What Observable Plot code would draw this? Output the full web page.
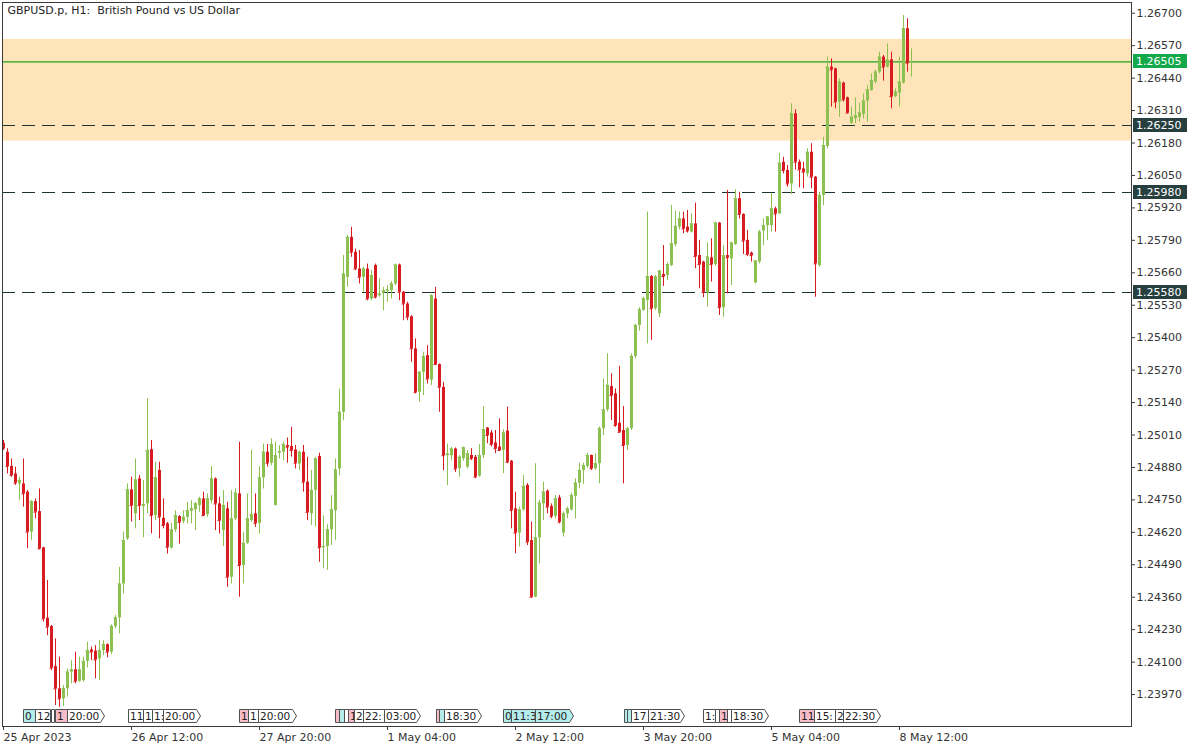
<!DOCTYPE html>
<html><head><meta charset="utf-8">
<script src="https://cdn.jsdelivr.net/npm/d3@7"></script>
<script src="https://cdn.jsdelivr.net/npm/@observablehq/plot@0.6"></script>
<style>body{margin:0;background:#fff;} svg{display:block}</style>
</head><body><div id="chart"></div>
<script>
const title = "GBPUSD.p, H1:  British Pound vs US Dollar";

// Hourly candles, index 0 = 25 Apr 2023 04:00 (trading hours only)
const openP = [1.24977,1.24941,1.24884,1.24854,1.24814,1.24814,1.24781,1.24621,1.24743,1.24703,
1.24558,1.24276,1.24243,1.24082,1.23993,1.23953,1.23993,1.24060,1.24069,1.24023,
1.24026,1.24103,1.24149,1.24144,1.24113,1.24146,1.24170,1.24140,1.24242,1.24277,
1.24413,1.24594,1.24790,1.24694,1.24834,1.24723,1.24734,1.24951,1.24687,1.24868,
1.24676,1.24654,1.24557,1.24630,1.24683,1.24664,1.24680,1.24704,1.24710,1.24727,
1.24754,1.24691,1.24747,1.24834,1.24734,1.24627,1.24714,1.24440,1.24674,1.24774,
1.24487,1.24576,1.24667,1.24694,1.24656,1.24838,1.24941,1.24897,1.24727,1.24937,
1.24941,1.24968,1.24964,1.24950,1.24894,1.24941,1.24821,1.24694,1.24788,1.24924,
1.24558,1.24563,1.24630,1.24707,1.24874,1.25101,1.25642,1.25802,1.25742,1.25675,
1.25642,1.25675,1.25555,1.25689,1.25568,1.25578,1.25586,1.25588,1.25615,1.25691,
1.25582,1.25535,1.25484,1.25355,1.25181,1.25261,1.25328,1.25230,1.25555,1.25292,
1.25201,1.24927,1.24927,1.24954,1.24875,1.24915,1.24881,1.24928,1.24921,1.24845,
1.24928,1.25038,1.25018,1.24978,1.24962,1.24948,1.25026,1.24905,1.24714,1.24617,
1.24710,1.24808,1.24587,1.24360,1.24598,1.24734,1.24785,1.24724,1.24684,1.24758,
1.24617,1.24694,1.24710,1.24764,1.24817,1.24868,1.24884,1.24928,1.24875,1.24895,
1.25035,1.25111,1.25204,1.25175,1.25057,1.25028,1.24968,1.25035,1.25325,1.25449,
1.25509,1.25549,1.25645,1.25516,1.25496,1.25653,1.25649,1.25689,1.25773,1.25843,
1.25876,1.25843,1.25823,1.25856,1.25729,1.25703,1.25578,1.25720,1.25693,1.25859,
1.25520,1.25729,1.25716,1.25773,1.25957,1.25894,1.25790,1.25739,1.25619,1.25703,
1.25827,1.25849,1.25849,1.25916,1.25896,1.26103,1.26070,1.26016,1.26297,1.26103,
1.26076,1.26056,1.26143,1.26043,1.25689,1.25970,1.26166,1.26484,1.26477,1.26344,
1.26420,1.26361,1.26259,1.26277,1.26283,1.26294,1.26348,1.26390,1.26424,1.26464,
1.26524,1.26484,1.26513,1.26366,1.26380,1.26420,1.26638,1.26500];

const highP = [1.24988,1.24955,1.24914,1.24881,1.24841,1.24914,1.24788,1.24747,1.24754,1.24794,
1.24560,1.24427,1.24247,1.24193,1.24120,1.24006,1.24073,1.24106,1.24140,1.24120,
1.24120,1.24180,1.24160,1.24166,1.24186,1.24186,1.24173,1.24249,1.24287,1.24480,
1.24621,1.24814,1.24841,1.24914,1.24848,1.24828,1.25156,1.24988,1.24901,1.24901,
1.24754,1.24660,1.24656,1.24707,1.24687,1.24707,1.24740,1.24747,1.24740,1.24761,
1.24781,1.24774,1.24883,1.24838,1.24761,1.24787,1.24740,1.24787,1.24794,1.24981,
1.24620,1.24774,1.24948,1.24774,1.24883,1.24974,1.24972,1.24994,1.24981,1.24968,
1.24981,1.24998,1.25041,1.24968,1.24945,1.24968,1.24921,1.24868,1.24921,1.24937,
1.24687,1.24651,1.24767,1.24914,1.25194,1.25729,1.25809,1.25842,1.25755,1.25749,
1.25682,1.25695,1.25669,1.25695,1.25635,1.25602,1.25608,1.25625,1.25695,1.25695,
1.25585,1.25542,1.25488,1.25395,1.25265,1.25341,1.25368,1.25572,1.25602,1.25295,
1.25221,1.24974,1.24961,1.24958,1.24928,1.24962,1.24948,1.24955,1.24928,1.24972,
1.25124,1.25040,1.25028,1.25028,1.25075,1.25031,1.25122,1.24908,1.24781,1.24721,
1.24848,1.24815,1.24661,1.24895,1.24748,1.24821,1.24790,1.24734,1.24768,1.24768,
1.24701,1.24721,1.24777,1.24835,1.24897,1.24897,1.24937,1.24930,1.24935,1.25042,
1.25235,1.25336,1.25255,1.25195,1.25285,1.25124,1.25041,1.25335,1.25453,1.25520,
1.25562,1.25903,1.25649,1.25649,1.25669,1.25769,1.25699,1.25930,1.25907,1.25903,
1.25903,1.25910,1.25896,1.25939,1.25790,1.25706,1.25779,1.25796,1.25863,1.25862,
1.25769,1.25990,1.25783,1.25993,1.25983,1.25896,1.25830,1.25743,1.25709,1.25830,
1.25876,1.25885,1.25976,1.25923,1.26139,1.26123,1.26090,1.26337,1.26313,1.26112,
1.26103,1.26157,1.26177,1.26046,1.25983,1.26203,1.26524,1.26517,1.26480,1.26437,
1.26424,1.26364,1.26324,1.26361,1.26340,1.26377,1.26410,1.26457,1.26471,1.26544,
1.26531,1.26577,1.26544,1.26397,1.26524,1.26691,1.26678,1.26557];

const lowP = [1.24948,1.24854,1.24841,1.24808,1.24747,1.24721,1.24554,1.24587,1.24674,1.24550,
1.24260,1.24206,1.24066,1.23926,1.23919,1.23922,1.23960,1.24013,1.24013,1.24019,
1.24019,1.24076,1.24106,1.24033,1.24026,1.24126,1.24117,1.24130,1.24233,1.24213,
1.24373,1.24587,1.24661,1.24634,1.24667,1.24598,1.24694,1.24614,1.24667,1.24594,
1.24634,1.24533,1.24553,1.24620,1.24573,1.24654,1.24654,1.24654,1.24627,1.24700,
1.24683,1.24680,1.24734,1.24627,1.24613,1.24563,1.24400,1.24413,1.24667,1.24360,
1.24413,1.24571,1.24660,1.24640,1.24613,1.24794,1.24881,1.24887,1.24727,1.24914,
1.24907,1.24897,1.24921,1.24874,1.24867,1.24781,1.24667,1.24647,1.24641,1.24500,
1.24474,1.24467,1.24567,1.24587,1.24847,1.25067,1.25602,1.25722,1.25669,1.25615,
1.25582,1.25548,1.25548,1.25555,1.25562,1.25508,1.25542,1.25555,1.25608,1.25548,
1.25468,1.25468,1.25301,1.25174,1.25141,1.25168,1.25214,1.25208,1.25290,1.25101,
1.24867,1.24807,1.24907,1.24860,1.24841,1.24905,1.24875,1.24908,1.24835,1.24841,
1.24915,1.24975,1.24962,1.24935,1.24945,1.24855,1.24895,1.24634,1.24534,1.24561,
1.24705,1.24567,1.24358,1.24358,1.24494,1.24668,1.24694,1.24674,1.24674,1.24654,
1.24601,1.24674,1.24705,1.24674,1.24794,1.24812,1.24875,1.24868,1.24868,1.24815,
1.25008,1.25102,1.25068,1.25041,1.25017,1.24814,1.24948,1.25028,1.25315,1.25426,
1.25506,1.25375,1.25389,1.25509,1.25480,1.25605,1.25629,1.25685,1.25763,1.25832,
1.25816,1.25819,1.25819,1.25676,1.25596,1.25560,1.25522,1.25623,1.25685,1.25489,
1.25482,1.25576,1.25609,1.25769,1.25876,1.25733,1.25725,1.25703,1.25616,1.25696,
1.25769,1.25789,1.25823,1.25823,1.25893,1.26056,1.26003,1.25974,1.26072,1.26000,
1.25996,1.26043,1.25996,1.25562,1.25682,1.25929,1.26157,1.26324,1.26317,1.26283,
1.26344,1.26297,1.26254,1.26257,1.26263,1.26277,1.26263,1.26388,1.26417,1.26457,
1.26428,1.26481,1.26317,1.26361,1.26324,1.26417,1.26464,1.26444];

const closeP = [1.24955,1.24884,1.24848,1.24817,1.24828,1.24774,1.24621,1.24743,1.24701,1.24554,
1.24273,1.24240,1.24076,1.23993,1.23953,1.23993,1.24060,1.24069,1.24023,1.24069,
1.24103,1.24146,1.24140,1.24109,1.24146,1.24170,1.24140,1.24243,1.24277,1.24413,
1.24587,1.24790,1.24727,1.24830,1.24727,1.24731,1.24948,1.24687,1.24838,1.24681,
1.24647,1.24560,1.24630,1.24687,1.24660,1.24680,1.24707,1.24714,1.24734,1.24754,
1.24687,1.24754,1.24834,1.24734,1.24667,1.24727,1.24440,1.24674,1.24777,1.24487,
1.24576,1.24674,1.24691,1.24656,1.24838,1.24941,1.24897,1.24972,1.24927,1.24943,
1.24972,1.24961,1.24948,1.24897,1.24941,1.24821,1.24700,1.24788,1.24914,1.24558,
1.24563,1.24630,1.24710,1.24870,1.25101,1.25655,1.25802,1.25742,1.25675,1.25642,
1.25675,1.25555,1.25649,1.25562,1.25575,1.25588,1.25591,1.25615,1.25691,1.25582,
1.25535,1.25482,1.25355,1.25181,1.25261,1.25324,1.25234,1.25568,1.25292,1.25201,
1.24927,1.24934,1.24954,1.24874,1.24921,1.24959,1.24935,1.24915,1.24841,1.24928,
1.25031,1.25008,1.24972,1.24955,1.24948,1.25018,1.24901,1.24708,1.24617,1.24710,
1.24804,1.24581,1.24360,1.24598,1.24737,1.24781,1.24721,1.24684,1.24754,1.24661,
1.24694,1.24714,1.24768,1.24817,1.24868,1.24888,1.24928,1.24875,1.24895,1.25035,
1.25111,1.25209,1.25168,1.25048,1.25021,1.24968,1.25035,1.25325,1.25449,1.25512,
1.25556,1.25645,1.25516,1.25643,1.25667,1.25645,1.25693,1.25776,1.25846,1.25876,
1.25836,1.25827,1.25856,1.25725,1.25693,1.25582,1.25723,1.25693,1.25859,1.25520,
1.25729,1.25720,1.25779,1.25957,1.25894,1.25787,1.25733,1.25729,1.25707,1.25823,
1.25849,1.25883,1.25916,1.25896,1.26099,1.26070,1.26016,1.26297,1.26103,1.26072,
1.26063,1.26143,1.26043,1.25696,1.25970,1.26170,1.26484,1.26473,1.26344,1.26424,
1.26353,1.26300,1.26283,1.26290,1.26300,1.26348,1.26393,1.26430,1.26464,1.26524,
1.26484,1.26513,1.26366,1.26384,1.26424,1.26638,1.26500,1.26505];

// x-axis tick positions (candle index) and labels
const xTickIdx = [0, 32, 64, 96, 128, 160, 192, 224];
const xTickLabels = ["25 Apr 2023","26 Apr 12:00","27 Apr 20:00","1 May 04:00","2 May 12:00","3 May 20:00","5 May 04:00","8 May 12:00"];
// y-axis ticks
const yTicks = [1.26700,1.26570,1.26440,1.26310,1.26180,1.26050,1.25920,1.25790,1.25660,1.25530,1.25400,1.25270,1.25140,1.25010,1.24880,1.24750,1.24620,1.24490,1.24360,1.24230,1.24100,1.23970];

// zone and levels
const zone = [1.26188, 1.26595];
const lastPrice = 1.26505;
const levels = [1.26250, 1.25980, 1.25580];

// calendar events (candle-index span), visible label and kind
const evStart = [5.1,8.1,12,13.1,15.9,31.2,35,37.2,40,59,61.25,63.75,83,84,85.25,86.25,87.75,90,95.25,108.25,109,110.25,125,127,133,155.25,156,157,161.25,175,178,179,181,182,199,202.75,208,210];
const evEnd = [8.1,11.8,12.75,15.9,25.25,34.9,37.2,40,49.25,61.25,63.75,73.25,84,85.25,86.25,87.75,90,95.25,104.25,109,110.25,119.5,127,133,142.5,156,157,161.25,170.25,178,179,181,182,191.25,202.75,208,210,219.25];
const evLabel = ["0","12","","1","20:00","11","1","1:","20:00","1","1","20:00","","","","1","2","22:","03:00","","","18:30","0","11:3","17:00","","","17","21:30","1:","","1","","18:30","11","15:","2","22:30"];
const evKind = ["c","w","w","p","a","w","w","w","a","p","w","a","p","c","w","p","w","w","a","p","c","a","c","c","ac","c","c","w","a","w","w","p","w","a","p","w","w","a"];

const W = 1200, H = 750;
const xDomain = [-0.25, 282];
const yDomain = [1.23842, 1.26743];
const GREEN = "#8cc152", RED = "#d81b20";

const candles = openP.map((o, i) => ({i, o, h: highP[i], l: lowP[i], c: closeP[i], up: closeP[i] >= o}));
const col = d => d.up ? GREEN : RED;

const chart = Plot.plot({
  width: W, height: H,
  marginLeft: 2, marginRight: 69, marginTop: 2, marginBottom: 24,
  style: {fontFamily: "DejaVu Sans, sans-serif", fontSize: "11px", color: "#333", background: "#fff", overflow: "visible"},
  x: {domain: xDomain, axis: null},
  y: {domain: yDomain, axis: null},
  color: {type: "identity"},
  marks: [
    Plot.rect([zone], {x1: xDomain[0], x2: xDomain[1], y1: d => d[0], y2: d => d[1], fill: "#fee4b8"}),
    Plot.ruleY(levels, {stroke: "#1c3333", strokeWidth: 1, strokeDasharray: "13,7", shapeRendering: "crispEdges"}),
    Plot.ruleY([lastPrice], {stroke: "#1fa51f", strokeWidth: 1.3}),
    Plot.ruleX(candles, {x: "i", y1: "l", y2: "h", stroke: col, strokeWidth: 1, clip: true}),
    Plot.ruleX(candles, {x: "i", y1: "o", y2: "c", stroke: col, strokeWidth: 3, clip: true}),
    Plot.ruleY(candles, {y: "c", x1: d => d.i - 0.375, x2: d => d.i + 0.375, stroke: col, strokeWidth: 1, clip: true}),
    Plot.frame({stroke: "#3a3a3a"}),
    Plot.axisX({ticks: xTickIdx, tickFormat: d => xTickLabels[xTickIdx.indexOf(d)], textAnchor: "start", tickSize: 4, tickPadding: 3, label: null, stroke: "#3a3a3a", fill: "#333"}),
    Plot.axisY({anchor: "right", ticks: yTicks, tickFormat: d => d.toFixed(5), tickSize: 3, tickPadding: 2, label: null, stroke: "#3a3a3a", fill: "#333"}),
    Plot.text([title], {frameAnchor: "top-left", dx: 5, dy: 4, textAnchor: "start", lineAnchor: "top", fill: "#222", fontSize: 11})
  ]
});

document.getElementById("chart").appendChild(chart);

// overlays positioned through Plot's scales
const xs = chart.scale("x"), ys = chart.scale("y");
const svg = d3.select(chart);
const axisRight = W - 69;

// price labels on the right axis
const priceLabels = [{v: lastPrice, bg: "#13a94b"}].concat(levels.map(v => ({v, bg: "#27403f"})));
const pl = svg.append("g").attr("font-family", "DejaVu Sans, sans-serif").attr("font-size", 11).attr("text-anchor", "start");
priceLabels.forEach(p => {
  const y = ys.apply(p.v);
  pl.append("rect").attr("x", axisRight + 2).attr("y", Math.round(y) - 7).attr("width", 54).attr("height", 14).attr("fill", p.bg);
  pl.append("text").attr("x", axisRight + 5).attr("y", Math.round(y) + 0.5).attr("dominant-baseline", "middle").attr("fill", "#fff").text(p.v.toFixed(5));
});

// calendar event boxes at the bottom of the chart
const fills = {c: "#b4ecec", w: "#ffffff", p: "#f6bcc8", a: "#ffffff", ac: "#b4ecec"};
const defs = svg.append("defs");
const eg = svg.append("g").attr("font-family", "DejaVu Sans, sans-serif").attr("font-size", 10.5).attr("text-anchor", "start");
const boxTop = H - 24 - 17, boxBot = H - 24 - 4;
evStart.forEach((s, k) => {
  const x0 = Math.round(xs.apply(s)) + 0.5, x1 = Math.round(xs.apply(evEnd[k])) + 0.5;
  const kind = evKind[k];
  const arrow = kind === "a" || kind === "ac";
  const d = arrow
    ? `M${x0},${boxTop + 0.5}H${x1 - 4}L${x1},${(boxTop + boxBot) / 2 + 0.5}L${x1 - 4},${boxBot + 0.5}H${x0}Z`
    : `M${x0},${boxTop + 0.5}H${x1}V${boxBot + 0.5}H${x0}Z`;
  eg.append("path").attr("d", d).attr("fill", fills[kind]).attr("stroke", "#505050").attr("stroke-width", 1);
  if (evLabel[k]) {
    const id = "clip" + k;
    defs.append("clipPath").attr("id", id).append("rect").attr("x", x0).attr("y", boxTop).attr("width", Math.max(0, x1 - x0 - (arrow ? 3 : 0))).attr("height", boxBot - boxTop + 1);
    eg.append("text").attr("clip-path", `url(#${id})`).attr("x", x0 + 1.5).attr("y", (boxTop + boxBot) / 2 + 1).attr("dominant-baseline", "middle").attr("fill", "#222").text(evLabel[k]);
  }
});
</script>
</body></html>
